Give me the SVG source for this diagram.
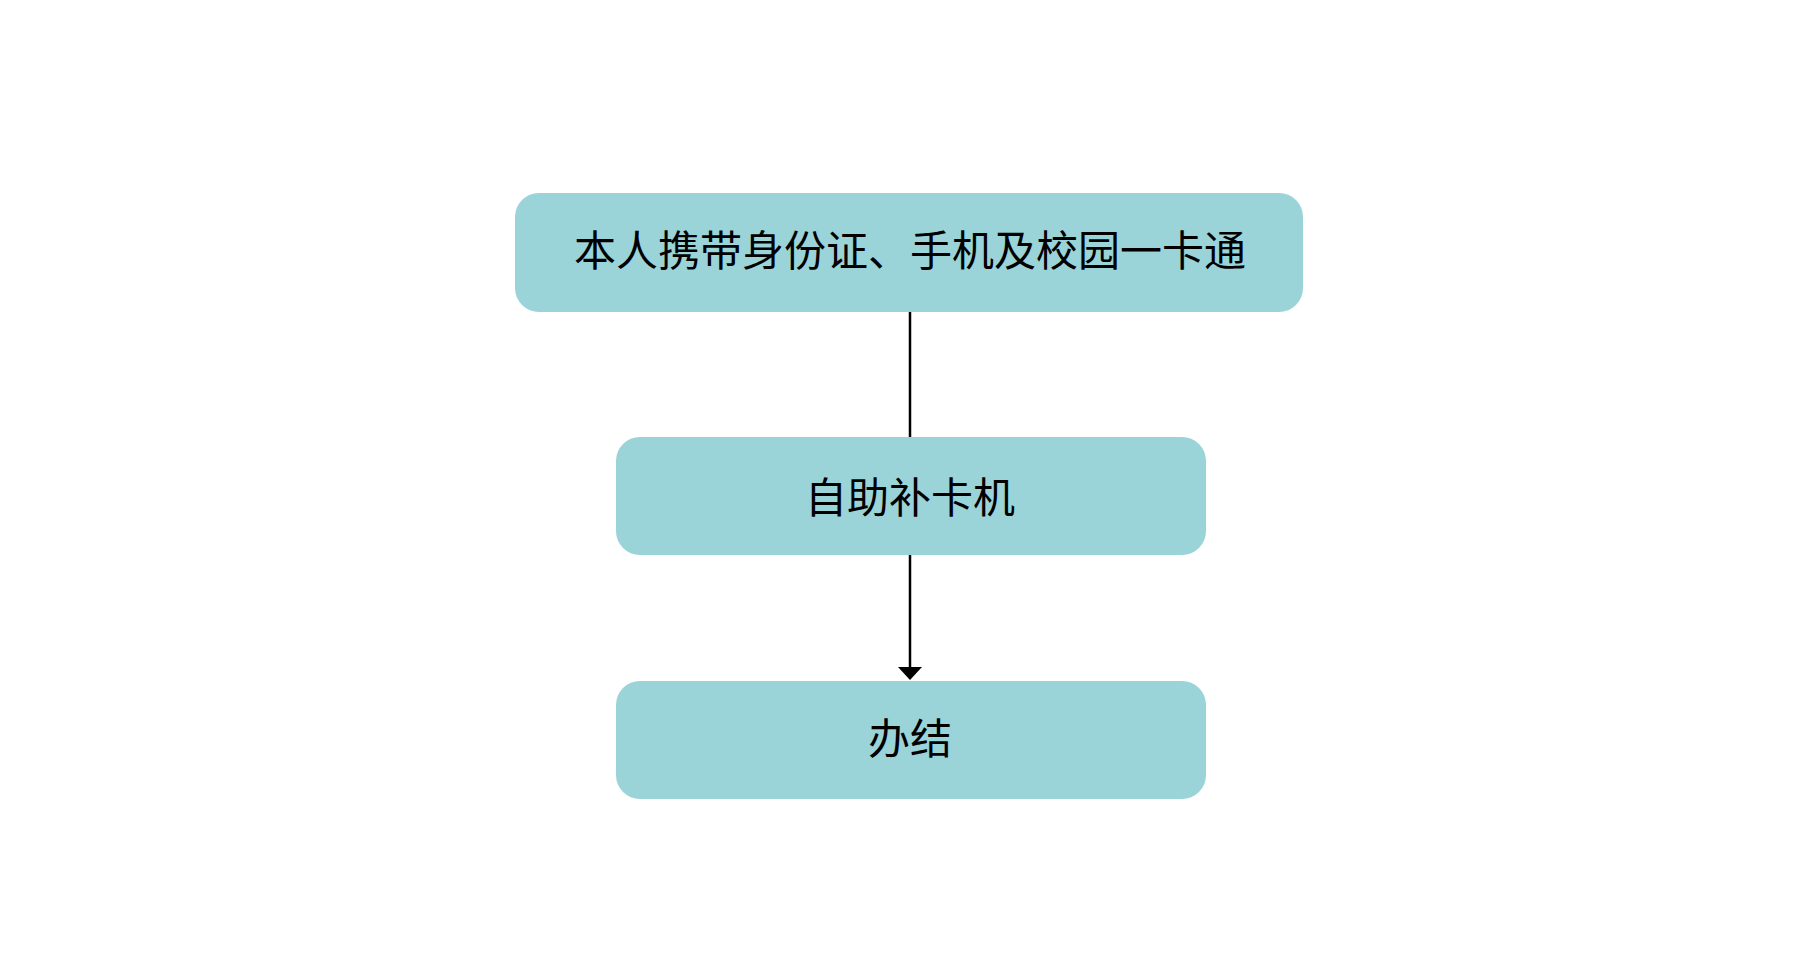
<svg xmlns="http://www.w3.org/2000/svg" width="1820" height="964" viewBox="0 0 1820 964">
<style>
.box{fill:#9AD3D8;}
.t{font-family:"Liberation Sans","Noto Sans CJK SC",sans-serif;font-size:42px;fill:#000;text-anchor:middle;dominant-baseline:central;}
.c{stroke:#000;stroke-width:2.5;fill:none;}
</style>
<rect width="1820" height="964" fill="#fff"/>
<g id="connectors">
<line class="c" x1="910" y1="312" x2="910" y2="438"/>
<line class="c" x1="910" y1="555" x2="910" y2="668"/>
<path d="M898,667 L922,667 L910,680 Z" fill="#000"/>
</g>
<g id="n1"><rect class="box" x="515" y="193" width="788" height="119" rx="24"/><text class="t" x="910" y="251">本人携带身份证、手机及校园一卡通</text></g>
<g id="n2"><rect class="box" x="616" y="437" width="590" height="118" rx="24"/><text class="t" x="910" y="498">自助补卡机</text></g>
<g id="n3"><rect class="box" x="616" y="681" width="590" height="118" rx="24"/><text class="t" x="910" y="739">办结</text></g>
</svg>
